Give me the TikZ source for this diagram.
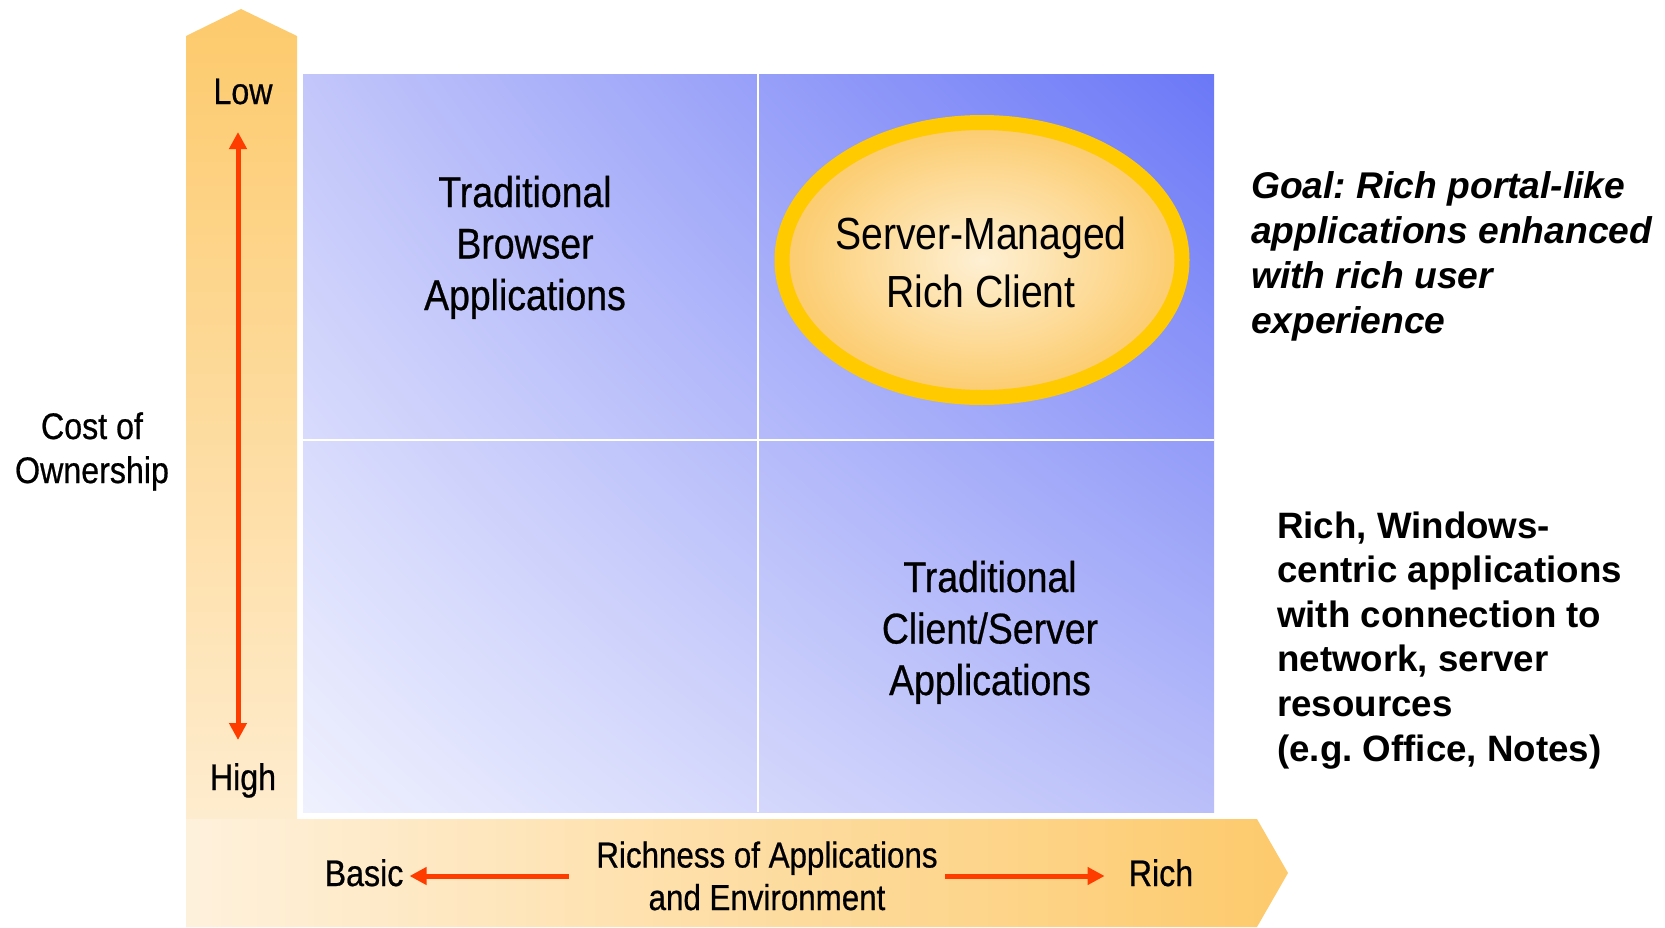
\documentclass[tikz,border=0pt]{standalone}
\usepackage{fontspec}
\setmainfont{Liberation Sans}
\newfontfamily\narrowfont[FakeStretch=0.87]{Liberation Sans}
\newfontfamily\narrowmed[FakeStretch=0.87,FakeBold=0.6]{Liberation Sans}
\usetikzlibrary{arrows.meta,shadings}
\definecolor{barDark}{HTML}{FDCA6C}
\definecolor{barLight}{HTML}{FEF1DC}
\definecolor{redArrow}{HTML}{FF3C00}
\definecolor{matLL}{HTML}{EFF1FE}
\definecolor{matUR}{HTML}{6B78F7}
\definecolor{matUL}{HTML}{C2C6FA}
\definecolor{matLR}{HTML}{BABFF9}
\definecolor{ellRim}{HTML}{FFCA00}
\definecolor{ellIn}{HTML}{FEF0D4}
\definecolor{ellOut}{HTML}{FCCB6C}
\frenchspacing
\begin{document}
\begin{tikzpicture}[x=1pt,y=-1pt,
  lbl/.style={font=\narrowmed\fontsize{37}{44}\selectfont, inner sep=0pt, align=center},
  axlbl/.style={font=\narrowmed\fontsize{36}{42.5}\selectfont, inner sep=0pt, align=center},
  quad/.style={font=\narrowmed\fontsize{43}{51.5}\selectfont, inner sep=0pt, align=center},
  elltext/.style={font=\narrowfont\fontsize{45}{58}\selectfont, inner sep=0pt, align=center},
  note/.style={font=\bfseries\fontsize{36.7}{44.6}\selectfont, inner sep=0pt, align=left},
  goalnote/.style={note, font=\bfseries\itshape\fontsize{37.2}{44.8}\selectfont},
  redarrow/.style={draw=redArrow, line width=5pt, -{Triangle[length=17pt,width=17pt]}},
  redboth/.style={draw=redArrow, line width=5pt, {Triangle[length=17pt,width=17pt]}-{Triangle[length=17pt,width=17pt]}},
]
\useasboundingbox (0,0) rectangle (1665,927);
% vertical axis band
\shade[top color=barDark, bottom color=barLight] (186,927) -- (186,36) -- (241,9) -- (297,36) -- (297,927) -- cycle;
% horizontal axis band
\shade[left color=barLight, right color=barDark] (186,819) -- (1257,819) -- (1288,873) -- (1257,927) -- (186,927) -- cycle;
% matrix
\shade[lower left=matLL, upper right=matUR, upper left=matUL, lower right=matLR] (303,74) rectangle (1214,812);
\draw[white, line width=2.5pt] (758,74) -- (758,812);
\draw[white, line width=2.5pt] (303,440) -- (1214,440);
% ellipse
\shadedraw[draw=ellRim, line width=15pt, inner color=ellIn, outer color=ellOut]
  (982,260) ellipse [x radius=200pt, y radius=137.5pt];
\node[elltext, anchor=base] (smrc) at (981,307) {Server-Managed\\Rich Client};
% quadrant labels (base anchor = last line)
\node[quad, anchor=base] (tba) at (525,310) {Traditional\\Browser\\Applications};
\node[quad, anchor=base] (tcs) at (990,695) {Traditional\\Client/Server\\Applications};
% axis labels
\node[lbl, anchor=base] (low) at (243,104) {Low};
\node[lbl, anchor=base] (high) at (243,790) {High};
\node[lbl, anchor=base] (cost) at (92,483) {Cost of\\Ownership};
\node[lbl, anchor=base] (basic) at (364,886) {Basic};
\node[lbl, anchor=base] (rich) at (1161,886) {Rich};
\node[axlbl, anchor=base] (richness) at (767,910) {Richness of Applications\\and Environment};
% arrows
\coordinate (vt) at (238,132);
\coordinate (vb) at (238,740);
\draw[redboth] (vt) -- (vb);
\coordinate (bs) at (569,876);
\coordinate (rs) at (945,876);
\draw[redarrow, shorten >=6pt] (bs) -- (basic.east |- bs);
\draw[redarrow, shorten >=24pt] (rs) -- (rich.west |- rs);
% notes
\node[goalnote, anchor=base west] (goal) at (1251,333) {Goal: Rich portal-like\\applications enhanced\\with rich user\\experience};
\node[note, anchor=base west] (windows) at (1277,761) {Rich, Windows-\\centric applications\\with connection to\\network, server\\resources\\(e.g. Office, Notes)};
\end{tikzpicture}
\end{document}
